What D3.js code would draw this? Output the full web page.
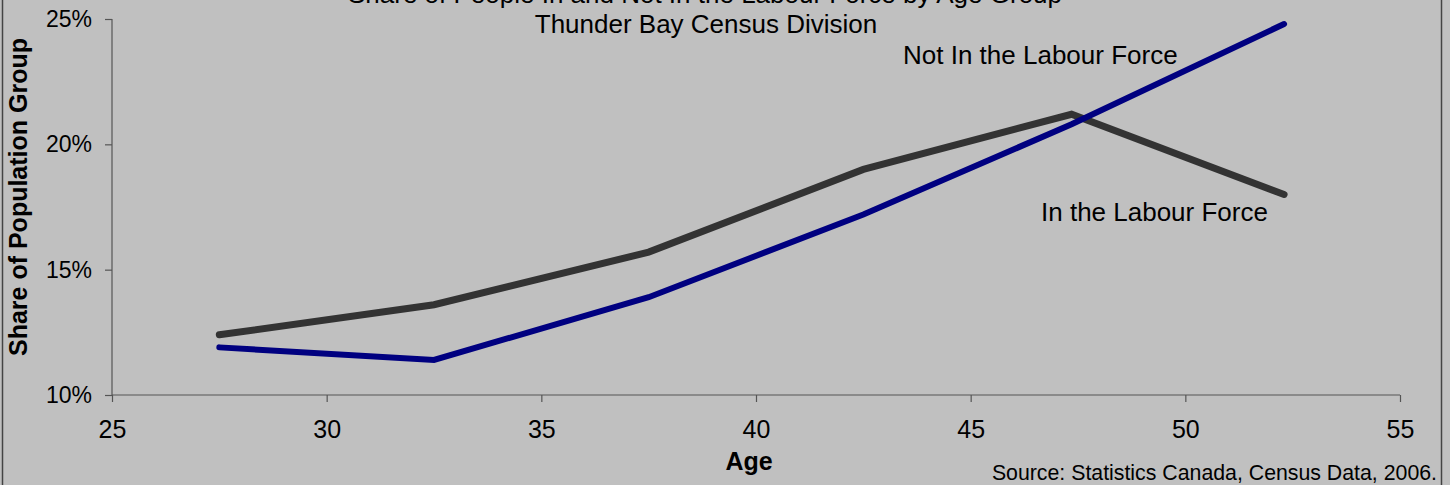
<!DOCTYPE html>
<html><head><meta charset="utf-8">
<script src="https://cdn.jsdelivr.net/npm/d3@7"></script>
<style>html,body{margin:0;padding:0;background:#c0c0c0;}svg{display:block;font-family:"Liberation Sans",Arial,sans-serif;}</style>
</head><body>
<svg id="c" width="1450" height="485"></svg>
<script>
const ages = [27.5, 32.5, 37.5, 42.5, 47.35, 52.3];
const inLabourForce = [12.4, 13.6, 15.7, 19.0, 21.2, 18.0];
const notInLabourForce = [11.9, 11.4, 13.9, 17.2, 20.8, 24.8];
const xTicks = [25, 30, 35, 40, 45, 50, 55];
const yTicks = [10, 15, 20, 25];
const titleLines = ["Share of People In and Not In the Labour Force by Age Group", "Thunder Bay Census Division"];

const svg = d3.select("#c");
svg.append("rect").attr("x",0).attr("y",0).attr("width",1450).attr("height",485).attr("fill","#c0c0c0");
svg.append("line").attr("x1",2.5).attr("x2",2.5).attr("y1",0).attr("y2",485).attr("stroke","#444").attr("stroke-width",1.5);
svg.append("line").attr("x1",1441.5).attr("x2",1441.5).attr("y1",0).attr("y2",485).attr("stroke","#444").attr("stroke-width",1.5);

const x = d3.scaleLinear().domain([25,55]).range([112,1400]);
const y = d3.scaleLinear().domain([10,25]).range([395,19]);

const xAxis = svg.append("g").attr("transform","translate(0,395)")
  .call(d3.axisBottom(x).tickValues(xTicks).tickSize(7).tickSizeOuter(0).tickPadding(18));
const yAxis = svg.append("g").attr("transform","translate(112,0)")
  .call(d3.axisLeft(y).tickValues(yTicks).tickSize(7).tickSizeOuter(0).tickPadding(13).tickFormat(d=>d+"%"));
[xAxis,yAxis].forEach(a=>{
  a.select(".domain").attr("stroke","#555").attr("stroke-width",1.2);
  a.selectAll(".tick line").attr("stroke","#555").attr("stroke-width",1.2);
  a.selectAll(".tick text").attr("fill","#000").attr("font-family","Liberation Sans, Arial, sans-serif");
});
xAxis.selectAll(".tick text").attr("font-size",25);
yAxis.selectAll(".tick text").attr("font-size",23);
yAxis.select(".domain").attr("d","M0,19V395");
xAxis.select(".domain").attr("d","M112,0H1400");

const line = d3.line().x((d,i)=>x(ages[i])).y(d=>y(d));
svg.append("path").datum(inLabourForce).attr("d",line).attr("fill","none")
  .attr("stroke","#333333").attr("stroke-width",7).attr("stroke-linecap","round").attr("stroke-linejoin","miter");
svg.append("path").datum(notInLabourForce).attr("d",line).attr("fill","none")
  .attr("stroke","#000080").attr("stroke-width",6).attr("stroke-linecap","round").attr("stroke-linejoin","miter");

svg.append("text").attr("x",705).attr("y",3).attr("text-anchor","middle").attr("font-size",26).text(titleLines[0]);
svg.append("text").attr("x",706).attr("y",33).attr("text-anchor","middle").attr("font-size",26).text(titleLines[1]);

svg.append("text").attr("x",903).attr("y",64).attr("font-size",26).text("Not In the Labour Force");
svg.append("text").attr("x",1041).attr("y",221).attr("font-size",26).text("In the Labour Force");

svg.append("text").attr("transform","translate(27,197) rotate(-90)").attr("text-anchor","middle")
  .attr("font-size",25).attr("font-weight","bold").text("Share of Population Group");
svg.append("text").attr("x",749).attr("y",470).attr("text-anchor","middle")
  .attr("font-size",25).attr("font-weight","bold").text("Age");
svg.append("text").attr("x",1437).attr("y",480).attr("text-anchor","end")
  .attr("font-size",21.3).text("Source: Statistics Canada, Census Data, 2006.");
</script>
</body></html>
